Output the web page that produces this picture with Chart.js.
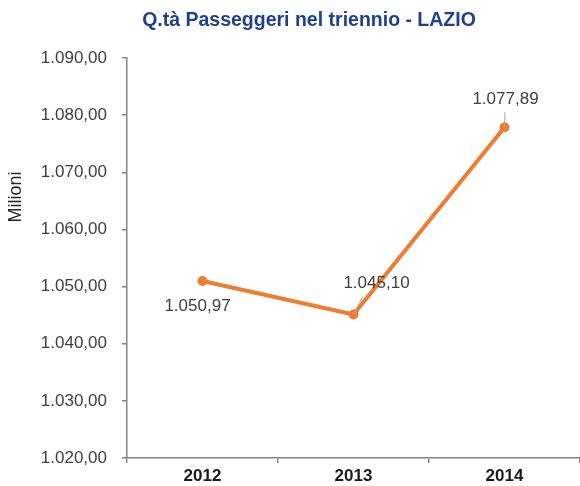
<!DOCTYPE html>
<html>
<head>
<meta charset="utf-8">
<title>Q.tà Passeggeri nel triennio - LAZIO</title>
<script src="https://cdn.jsdelivr.net/npm/chart.js@4.4.0/dist/chart.umd.min.js"></script>
<style>
	body { margin: 0; background: #fff; }
	#wrap { width: 580px; height: 486px; }
</style>
</head>
<body>
<div id="wrap"><canvas id="line-chart" width="580" height="486"></canvas></div>
<script>
var years = ["2012", "2013", "2014"];
var passeggeri = [1050.97, 1045.10, 1077.89];
// offset of each data label from its point (px)
var labelShift = [[-5, 25], [23, -31], [1, -28]];

var chartTitle = "Q.tà Passeggeri nel triennio - LAZIO";
var axisTitle = "Milioni";

var fontName = "'Liberation Sans', Arial, sans-serif";
var textColor = "#404040";
var axisColor = "#868686";

function fmtIt(v, dec){
	var s = v.toFixed(dec).split(".");
	var int = s[0].replace(/\B(?=(\d{3})+(?!\d))/g, ".");
	return dec > 0 ? int + "," + s[1] : int;
}

var extraText = {
	id: "extraText",
	afterDatasetsDraw: function(chart){
		var ctx = chart.ctx;
		var meta = chart.getDatasetMeta(0);
		ctx.save();
		ctx.font = "17px " + fontName;
		ctx.fillStyle = textColor;
		ctx.textAlign = "center";
		ctx.textBaseline = "middle";
		for(var i = 0; i < meta.data.length; i++){
			var p = meta.data[i];
			var lx = p.x + labelShift[i][0];
			var ly = p.y + labelShift[i][1];
			if(Math.abs(labelShift[i][1]) > 26){
				// leader line toward the point
				ctx.strokeStyle = "#a6a6a6";
				ctx.lineWidth = 1;
				ctx.beginPath();
				var sy = ly + (labelShift[i][1] < 0 ? 13 : -13);
				ctx.moveTo(lx - (lx - p.x) * 0.6, sy);
				ctx.lineTo(p.x, p.y);
				ctx.stroke();
			}
			ctx.fillText(fmtIt(passeggeri[i], 2), lx, ly);
		}

		// chart title
		ctx.font = "bold 19.5px " + fontName;
		ctx.fillStyle = "#1F3F91";
		ctx.fillText(chartTitle, 309, 21);

		// axis title
		ctx.translate(16, 197);
		ctx.rotate(-Math.PI / 2);
		ctx.font = "18px " + fontName;
		ctx.fillStyle = "#262626";
		ctx.fillText(axisTitle, 0, 0);
		ctx.restore();
	}
};

var chart = new Chart(document.getElementById("line-chart"), {
	type: "line",
	data: {
		labels: years,
		datasets: [{
			data: passeggeri,
			borderColor: "#ED7D31",
			backgroundColor: "#ED7D31",
			borderWidth: 4,
			pointRadius: 5,
			pointStyle: "circle",
			pointBorderWidth: 0,
			tension: 0,
			fill: false
		}]
	},
	options: {
		responsive: false,
		animation: false,
		layout: { autoPadding: false, padding: { left: 0, right: -1, top: 58, bottom: 0 } },
		plugins: {
			legend: { display: false },
			tooltip: { enabled: false },
			title: { display: false }
		},
		scales: {
			x: {
				offset: true,
				grid: { offset: true, drawOnChartArea: false, drawTicks: true, tickLength: 5, color: axisColor, lineWidth: 1.5 },
				border: { display: true, color: axisColor, width: 1.5 },
				ticks: { color: "#1a1a1a", padding: 3, font: { family: fontName, size: 17, weight: "bold" } },
				afterFit: function(scale){
					scale.height = 28;
					scale.paddingLeft = 0;
					scale.paddingRight = 0;
				}
			},
			y: {
				min: 1020,
				max: 1090,
				grid: { drawOnChartArea: false, drawTicks: true, tickLength: 5, color: axisColor, lineWidth: 1.5 },
				border: { display: true, color: axisColor, width: 1.5 },
				ticks: {
					stepSize: 10,
					color: textColor,
					padding: 15,
					font: { family: fontName, size: 17 },
					callback: function(v){ return fmtIt(v, 2); }
				},
				afterFit: function(scale){
					scale.width = 127;
					scale.paddingTop = 0;
					scale.paddingBottom = 0;
				}
			}
		}
	},
	plugins: [extraText]
});
</script>
</body>
</html>
